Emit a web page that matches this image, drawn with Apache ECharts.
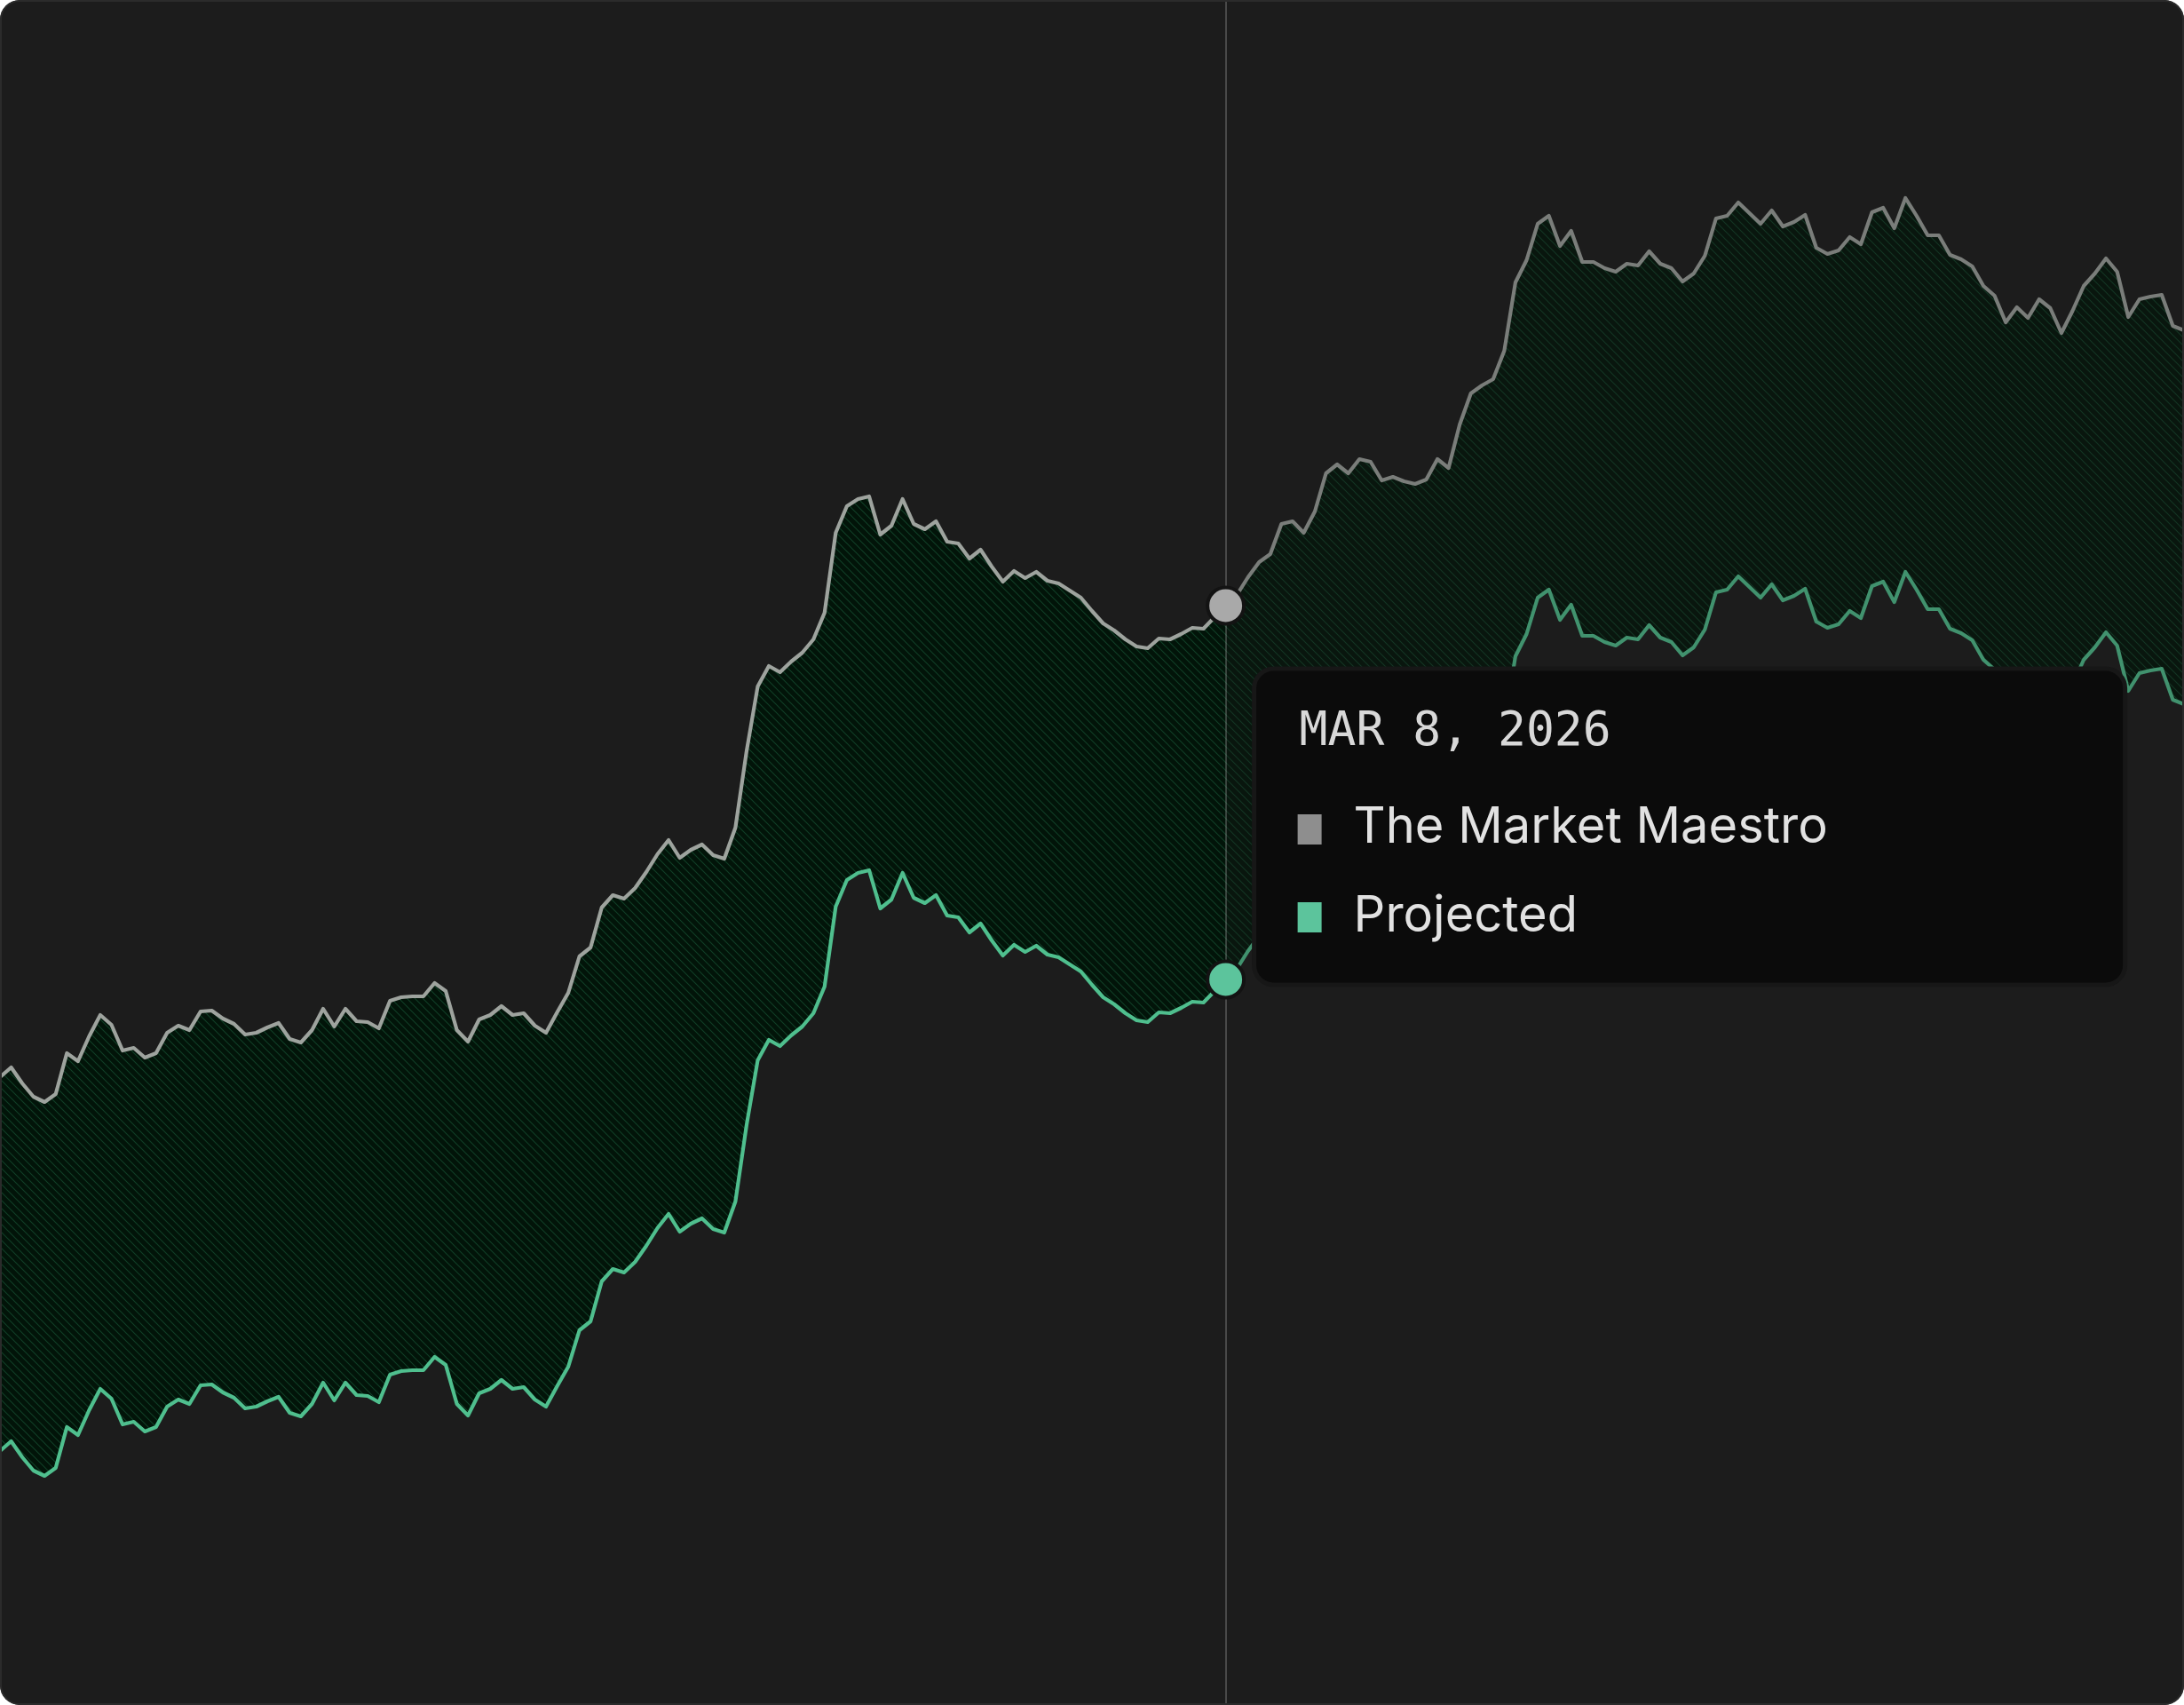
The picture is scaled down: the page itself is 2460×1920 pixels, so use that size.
<!DOCTYPE html>
<html><head><meta charset="utf-8">
<script src="https://cdn.jsdelivr.net/npm/echarts@6/dist/echarts.min.js"></script>
<style>
html,body{margin:0;padding:0;background:#ffffff;}
#wrap{position:relative;width:2460px;height:1920px;border-radius:22px;overflow:hidden;background:#1c1c1c;}
#chart{position:absolute;left:0;top:0;width:2460px;height:1920px;}
#frame{position:absolute;left:0;top:0;right:0;bottom:0;border:2px solid #2b2b2b;border-radius:22px;pointer-events:none;}
</style></head><body>
<div id="wrap"><div id="chart"></div><div id="frame"></div></div>
<script>
// ---- data ----
const seriesNames = ['The Market Maestro', 'Projected'];
const maestro = [
707,718,700,685,679,688,734,725,753,777,766,737,740,729,734,757,765,760,781,782,
773,767,755,757,763,768,750,746,760,784,764,784,770,769,762,793,797,798,798,813,
804,760,747,772,777,787,777,779,765,757,780,802,843,853,898,912,908,920,938,958,
974,954,963,969,957,953,988,1074,1147,1170,1163,1175,1185,1200,1230,1320,1350,1358,1361,1318,
1328,1358,1330,1324,1333,1310,1308,1291,1301,1282,1265,1277,1269,1276,1266,1263,1255,1247,1232,1218,
1210,1200,1192,1190,1201,1200,1206,1213,1212,1225,1238,1250,1270,1287,1296,1330,1333,1320,1344,1387,
1397,1387,1403,1400,1379,1383,1378,1375,1380,1403,1393,1442,1477,1486,1493,1525,1602,1627,1668,1677,
1643,1660,1625,1625,1618,1614,1623,1621,1637,1623,1618,1603,1612,1632,1674,1677,1692,1680,1668,1683,
1665,1670,1678,1641,1634,1638,1653,1645,1681,1686,1663,1697,1677,1655,1655,1633,1628,1620,1598,1587,
1557,1574,1562,1583,1573,1545,1570,1598,1612,1629,1614,1563,1583,1586,1588,1553,1548
];
const projected = [
286,297,279,264,258,267,313,304,332,356,345,316,319,308,313,336,344,339,360,361,
352,346,334,336,342,347,329,325,339,363,343,363,349,348,341,372,376,377,377,392,
383,339,326,351,356,366,356,358,344,336,359,381,422,432,477,491,487,499,517,537,
553,533,542,548,536,532,567,653,726,749,742,754,764,779,809,899,929,937,940,897,
907,937,909,903,912,889,887,870,880,861,844,856,848,855,845,842,834,826,811,797,
789,779,771,769,780,779,785,792,791,804,817,829,849,866,875,909,912,899,923,966,
976,966,982,979,958,962,957,954,959,982,972,1021,1056,1065,1072,1104,1181,1206,1247,1256,
1222,1239,1204,1204,1197,1193,1202,1200,1216,1202,1197,1182,1191,1211,1253,1256,1271,1259,1247,1262,
1244,1249,1257,1220,1213,1217,1232,1224,1260,1265,1242,1276,1256,1234,1234,1212,1207,1199,1177,1166,
1136,1153,1141,1162,1152,1124,1149,1177,1191,1208,1193,1142,1162,1165,1167,1132,1127
];
const startDate = '2025-11-18';
const cursorIndex = 110;
const monthNames = ['JAN','FEB','MAR','APR','MAY','JUN','JUL','AUG','SEP','OCT','NOV','DEC'];

// daily category labels
const categories = [];
{
  const d0 = new Date(startDate + 'T00:00:00Z');
  for (let i = 0; i < maestro.length; i++) {
    const d = new Date(d0.getTime() + i * 86400000);
    categories.push(d.toISOString().slice(0, 10));
  }
}
function fmtDate(s) {
  const d = new Date(s + 'T00:00:00Z');
  return monthNames[d.getUTCMonth()] + ' ' + d.getUTCDate() + ', ' + d.getUTCFullYear();
}
const bandHeight = maestro.map((v, i) => v - projected[i]);

// hatch pattern
function hatch() {
  const s = 9;
  const c = document.createElement('canvas');
  c.width = s; c.height = s;
  const g = c.getContext('2d');
  g.fillStyle = '#021409';
  g.fillRect(0, 0, s, s);
  g.strokeStyle = '#113f27';
  g.lineWidth = 1.1;
  g.beginPath();
  g.moveTo(-1, -1); g.lineTo(s + 1, s + 1);
  g.moveTo(-1, s - 1); g.lineTo(1, s + 1);
  g.moveTo(s - 1, -1); g.lineTo(s + 1, 1);
  g.stroke();
  return c;
}

const chart = echarts.init(document.getElementById('chart'), null, { renderer: 'canvas' });
chart.setOption({
  animation: false,
  backgroundColor: 'transparent',
  grid: { left: 0, right: -4, top: 0, bottom: 0 },
  xAxis: { type: 'category', data: categories, boundaryGap: false, show: false },
  yAxis: { type: 'value', min: 0, max: 1920, show: false },
  series: [
    { name: 'base', type: 'line', data: projected, stack: 'band', symbol: 'none', silent: true,
      lineStyle: { width: 0, opacity: 0 }, z: 1 },
    { name: 'band', type: 'line', data: bandHeight, stack: 'band', symbol: 'none', silent: true,
      lineStyle: { width: 0, opacity: 0 }, z: 1,
      areaStyle: { color: { image: hatch(), repeat: 'repeat' }, opacity: 1 } },
    { name: seriesNames[1], type: 'line', data: projected, symbol: 'none', silent: true, z: 3,
      lineStyle: { color: '#4fbf8e', width: 4.2, join: 'round' },
      markPoint: { silent: true, z: 20, symbol: 'circle', symbolSize: 41, label: { show: false },
        itemStyle: { color: '#5cc49c', borderColor: '#131313', borderWidth: 4 },
        data: [{ coord: [categories[cursorIndex], projected[cursorIndex]] }] } },
    { name: seriesNames[0], type: 'line', data: maestro, symbol: 'none', silent: true, z: 3,
      lineStyle: { color: '#9ea39e', width: 4.2, join: 'round' },
      markArea: { silent: true, z: 10, itemStyle: { color: 'rgba(28,28,28,0.28)', borderWidth: 0 },
        label: { show: false },
        data: [[{ xAxis: categories[cursorIndex] }, { xAxis: categories[categories.length - 1] }]] },
      markLine: { silent: true, z: 15, symbol: ['none', 'none'], label: { show: false },
        emphasis: { disabled: true },
        lineStyle: { color: 'rgba(255,255,255,0.2)', width: 2, type: 'solid' },
        data: [{ xAxis: categories[cursorIndex] }] },
      markPoint: { silent: true, z: 20, symbol: 'circle', symbolSize: 41, label: { show: false },
        itemStyle: { color: '#a9a9a9', borderColor: '#131313', borderWidth: 4 },
        data: [{ coord: [categories[cursorIndex], maestro[cursorIndex]] }] } }
  ]
});

// tooltip panel
const cx = chart.convertToPixel({ xAxisIndex: 0 }, categories[cursorIndex]);
const bx = cx + 32, by = 753;
chart.setOption({
  graphic: [
    { type: 'rect', z: 100, shape: { x: bx, y: by, width: 981, height: 356, r: 22 },
      style: { fill: '#0b0b0b', stroke: '#171717', lineWidth: 5 } },
    { type: 'text', z: 101, style: { text: fmtDate(categories[cursorIndex]), x: bx + 51, y: 825,
      font: '53px "DejaVu Sans Mono"', fill: '#d8d8d8', textAlign: 'left', textVerticalAlign: 'middle' } },
    { type: 'rect', z: 101, shape: { x: bx + 49, y: 917, width: 27, height: 34 }, style: { fill: '#8e8e8e' } },
    { type: 'text', z: 101, style: { text: seriesNames[0], x: bx + 112, y: 932,
      font: '56px Inter', fill: '#e2e2e2', textAlign: 'left', textVerticalAlign: 'middle' } },
    { type: 'rect', z: 101, shape: { x: bx + 49, y: 1016, width: 27, height: 34 }, style: { fill: '#5cc49c' } },
    { type: 'text', z: 101, style: { text: seriesNames[1], x: bx + 112, y: 1032,
      font: '56px Inter', fill: '#e2e2e2', textAlign: 'left', textVerticalAlign: 'middle' } }
  ]
});
</script>
</body></html>
